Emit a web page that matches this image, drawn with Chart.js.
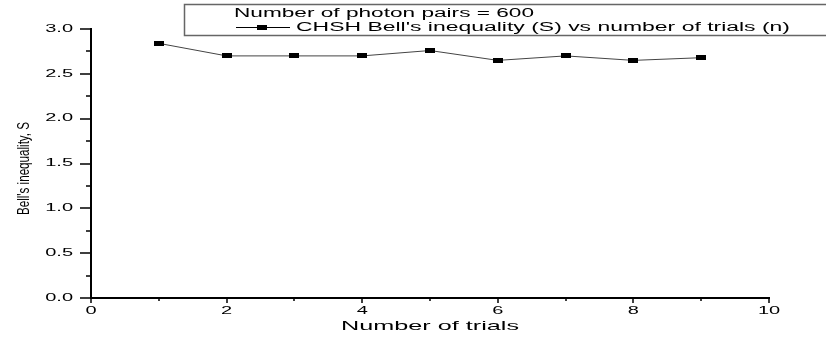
<!DOCTYPE html>
<html>
<head>
<meta charset="utf-8">
<script src="https://cdn.jsdelivr.net/npm/chart.js@4.4.1/dist/chart.umd.min.js"></script>
<style>
  html, body { margin: 0; padding: 0; background: #fff; }
</style>
</head>
<body>
<canvas id="bellChart" width="826" height="341"></canvas>
<script>
// CHSH value S measured for each trial
const trials = [1, 2, 3, 4, 5, 6, 7, 8, 9];
const bellS = [2.84, 2.70, 2.70, 2.70, 2.76, 2.65, 2.70, 2.65, 2.68];

const xTicks = [0, 2, 4, 6, 8, 10];
const yTicks = [0, 0.5, 1, 1.5, 2, 2.5, 3];

const legendTitle = 'Number of photon pairs = 600';
const seriesLabel = "CHSH Bell's inequality (S) vs number of trials (n)";
const xTitle = 'Number of trials';
const yTitle = "Bell's inequality, S";

const FONT = '"Liberation Sans", Arial, sans-serif';

// small black rectangle used as the point marker
function makeMarker(w, h) {
    const c = document.createElement('canvas');
    c.width = w;
    c.height = h;
    const g = c.getContext('2d');
    g.fillStyle = '#000';
    g.fillRect(0, 0, w, h);
    return c;
}
const marker = makeMarker(10, 5);

// text drawn wide (or narrow) by scaling horizontally; either a fixed
// factor (sx) or a target width can be given
function stretchText(ctx, text, x, y, opt) {
    ctx.save();
    ctx.font = opt.font;
    ctx.fillStyle = '#000';
    ctx.textBaseline = 'middle';
    ctx.textAlign = opt.align || 'center';
    const w = ctx.measureText(text).width;
    const sx = opt.width ? opt.width / w : (opt.sx || 1);
    ctx.translate(x, y);
    if (opt.rotate) ctx.rotate(opt.rotate);
    ctx.scale(sx, 1);
    ctx.fillText(text, 0, 0);
    ctx.restore();
}

function minorValues(major) {
    const out = [];
    for (let i = 0; i < major.length - 1; i++) {
        out.push((major[i] + major[i + 1]) / 2);
    }
    return out;
}

const axisDecor = {
    id: 'axisDecor',
    afterDraw(chart) {
        const ctx = chart.ctx;
        const xs = chart.scales.x;
        const ys = chart.scales.y;
        const area = chart.chartArea;

        ctx.save();
        ctx.strokeStyle = '#000';
        ctx.lineWidth = 1.5;
        ctx.beginPath();
        // x ticks point down
        xTicks.forEach(v => {
            const px = Math.round(xs.getPixelForValue(v));
            ctx.moveTo(px, area.bottom);
            ctx.lineTo(px, area.bottom + 5);
        });
        minorValues(xTicks).forEach(v => {
            const px = Math.round(xs.getPixelForValue(v));
            ctx.moveTo(px, area.bottom);
            ctx.lineTo(px, area.bottom + 3);
        });
        // y ticks point left
        yTicks.forEach(v => {
            const py = Math.round(ys.getPixelForValue(v));
            ctx.moveTo(area.left, py);
            ctx.lineTo(area.left - 11, py);
        });
        minorValues(yTicks).forEach(v => {
            const py = Math.round(ys.getPixelForValue(v));
            ctx.moveTo(area.left, py);
            ctx.lineTo(area.left - 5, py);
        });
        ctx.stroke();
        ctx.restore();

        // tick labels
        const tickFont = '10px ' + FONT;
        xTicks.forEach(v => {
            stretchText(ctx, String(v), xs.getPixelForValue(v), area.bottom + 13.5,
                { font: tickFont, sx: 2.0 });
        });
        yTicks.forEach(v => {
            stretchText(ctx, v.toFixed(1), area.left - 18, ys.getPixelForValue(v),
                { font: tickFont, sx: 2.0, align: 'right' });
        });

        // axis titles
        stretchText(ctx, xTitle, (area.left + area.right) / 2, 326,
            { font: '13px ' + FONT, width: 178 });
        stretchText(ctx, yTitle, 24, 168.5,
            { font: '17px ' + FONT, width: 93, rotate: -Math.PI / 2 });

        // legend box
        ctx.save();
        ctx.fillStyle = '#fff';
        ctx.fillRect(185, 5, 650, 31);
        ctx.strokeStyle = '#666';
        ctx.lineWidth = 1.5;
        ctx.strokeRect(184.5, 4.5, 650, 31);
        ctx.strokeStyle = '#000';
        ctx.lineWidth = 1;
        ctx.beginPath();
        ctx.moveTo(236, 27.5);
        ctx.lineTo(290, 27.5);
        ctx.stroke();
        ctx.drawImage(marker, 262 - marker.width / 2, 27.5 - marker.height / 2);
        ctx.restore();

        stretchText(ctx, legendTitle, 234, 14,
            { font: '12px ' + FONT, width: 300, align: 'left' });
        stretchText(ctx, chart.data.datasets[0].label, 296, 27.5,
            { font: '12px ' + FONT, width: 494, align: 'left' });
    }
};

new Chart(document.getElementById('bellChart'), {
    type: 'scatter',
    data: {
        datasets: [{
            label: seriesLabel,
            data: trials.map((t, i) => ({ x: t, y: bellS[i] })),
            showLine: true,
            borderColor: '#444',
            borderWidth: 1,
            pointStyle: marker,
            pointRadius: 5,
            pointHoverRadius: 5,
            clip: false
        }]
    },
    options: {
        responsive: false,
        animation: false,
        events: [],
        layout: { padding: { top: 29, right: 57, left: 0, bottom: 0 } },
        plugins: {
            legend: { display: false },
            tooltip: { enabled: false }
        },
        scales: {
            x: {
                type: 'linear',
                min: 0,
                max: 10,
                afterBuildTicks: s => { s.ticks = xTicks.map(v => ({ value: v })); },
                afterFit: s => { s.height = 43; },
                ticks: { display: false },
                grid: { drawOnChartArea: false, drawTicks: false },
                border: { color: '#000', width: 2 }
            },
            y: {
                type: 'linear',
                min: 0,
                max: 3,
                afterBuildTicks: s => { s.ticks = yTicks.map(v => ({ value: v })); },
                afterFit: s => { s.width = 91; },
                ticks: { display: false },
                grid: { drawOnChartArea: false, drawTicks: false },
                border: { color: '#000', width: 2 }
            }
        }
    },
    plugins: [axisDecor]
});
</script>
</body>
</html>
